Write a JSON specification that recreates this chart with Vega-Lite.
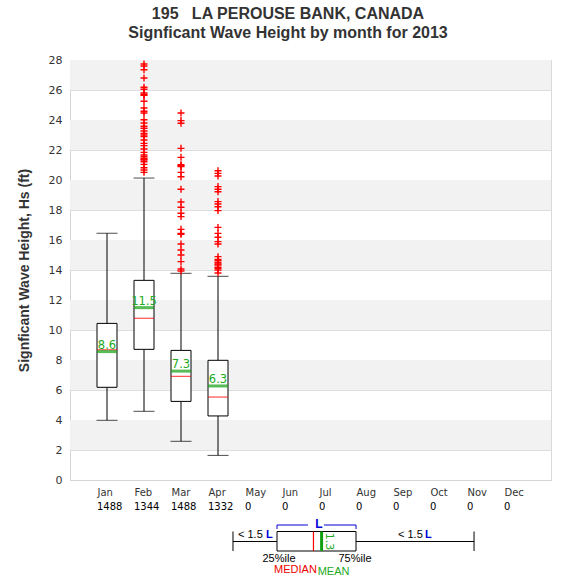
{
  "$schema": "https://vega.github.io/schema/vega-lite/v6.json",
  "background": "white",
  "padding": {"left": 16, "top": 5, "right": 5, "bottom": 5},
  "bounds": "flush",
  "spacing": 40,
  "config": {"axisY": {"labelOverlap": false}, "axis": {"labelOverlap": false}},
  "title": {
    "text": ["195\u00a0\u00a0\u00a0LA PEROUSE BANK, CANADA", "Signficant Wave Height by month for 2013"],
    "font": "Liberation Sans", "fontSize": 16, "fontWeight": "bold", "color": "#333333",
    "anchor": "middle", "frame": "bounds", "lineHeight": 19, "offset": 13, "dx": 4
  },
  "datasets": {
    "months": [
      {"month": "Jan", "n": 1488}, {"month": "Feb", "n": 1344}, {"month": "Mar", "n": 1488},
      {"month": "Apr", "n": 1332}, {"month": "May", "n": 0}, {"month": "Jun", "n": 0},
      {"month": "Jul", "n": 0}, {"month": "Aug", "n": 0}, {"month": "Sep", "n": 0},
      {"month": "Oct", "n": 0}, {"month": "Nov", "n": 0}, {"month": "Dec", "n": 0}
    ],
    "stats": [
      {"month": "Jan", "lo": 3.98, "q1": 6.18, "med": 8.68, "mean": 8.56, "q3": 10.44, "hi": 16.45},
      {"month": "Feb", "lo": 4.58, "q1": 8.71, "med": 10.78, "mean": 11.49, "q3": 13.31, "hi": 20.13},
      {"month": "Mar", "lo": 2.58, "q1": 5.24, "med": 6.91, "mean": 7.26, "q3": 8.64, "hi": 13.78},
      {"month": "Apr", "lo": 1.64, "q1": 4.27, "med": 5.53, "mean": 6.27, "q3": 7.98, "hi": 13.58}
    ],
    "outliers": [
      {"month": "Feb", "v": 27.73}, {"month": "Feb", "v": 27.6}, {"month": "Feb", "v": 27.35}, {"month": "Feb", "v": 26.8},
      {"month": "Feb", "v": 26.18}, {"month": "Feb", "v": 26.05}, {"month": "Feb", "v": 25.8}, {"month": "Feb", "v": 25.7},
      {"month": "Feb", "v": 25.65}, {"month": "Feb", "v": 25.25}, {"month": "Feb", "v": 24.8}, {"month": "Feb", "v": 24.58},
      {"month": "Feb", "v": 24.47}, {"month": "Feb", "v": 24.02}, {"month": "Feb", "v": 23.8}, {"month": "Feb", "v": 23.58},
      {"month": "Feb", "v": 23.45}, {"month": "Feb", "v": 23.27}, {"month": "Feb", "v": 23.11}, {"month": "Feb", "v": 23.0},
      {"month": "Feb", "v": 22.89}, {"month": "Feb", "v": 22.67}, {"month": "Feb", "v": 22.44}, {"month": "Feb", "v": 22.29},
      {"month": "Feb", "v": 22.07}, {"month": "Feb", "v": 21.84}, {"month": "Feb", "v": 21.67}, {"month": "Feb", "v": 21.55},
      {"month": "Feb", "v": 21.44}, {"month": "Feb", "v": 21.38}, {"month": "Feb", "v": 21.33}, {"month": "Feb", "v": 21.22},
      {"month": "Feb", "v": 21.04}, {"month": "Feb", "v": 20.82}, {"month": "Feb", "v": 20.67}, {"month": "Feb", "v": 20.51},
      {"month": "Mar", "v": 24.47}, {"month": "Mar", "v": 23.96}, {"month": "Mar", "v": 23.78}, {"month": "Mar", "v": 22.11},
      {"month": "Mar", "v": 21.51}, {"month": "Mar", "v": 21.02}, {"month": "Mar", "v": 20.96}, {"month": "Mar", "v": 20.9},
      {"month": "Mar", "v": 20.51}, {"month": "Mar", "v": 20.22}, {"month": "Mar", "v": 19.38}, {"month": "Mar", "v": 18.53},
      {"month": "Mar", "v": 18.18}, {"month": "Mar", "v": 17.78}, {"month": "Mar", "v": 17.56}, {"month": "Mar", "v": 16.71},
      {"month": "Mar", "v": 16.44}, {"month": "Mar", "v": 16.38}, {"month": "Mar", "v": 15.73}, {"month": "Mar", "v": 15.33},
      {"month": "Mar", "v": 15.0}, {"month": "Mar", "v": 14.56}, {"month": "Mar", "v": 14.07}, {"month": "Mar", "v": 13.93},
      {"month": "Apr", "v": 20.62}, {"month": "Apr", "v": 20.44}, {"month": "Apr", "v": 20.27}, {"month": "Apr", "v": 19.56},
      {"month": "Apr", "v": 19.38}, {"month": "Apr", "v": 19.22}, {"month": "Apr", "v": 18.56}, {"month": "Apr", "v": 18.4},
      {"month": "Apr", "v": 18.22}, {"month": "Apr", "v": 17.96}, {"month": "Apr", "v": 16.84}, {"month": "Apr", "v": 16.44},
      {"month": "Apr", "v": 16.18}, {"month": "Apr", "v": 15.89}, {"month": "Apr", "v": 15.73}, {"month": "Apr", "v": 14.89},
      {"month": "Apr", "v": 14.71}, {"month": "Apr", "v": 14.62}, {"month": "Apr", "v": 14.49}, {"month": "Apr", "v": 14.4},
      {"month": "Apr", "v": 14.33}, {"month": "Apr", "v": 14.18}, {"month": "Apr", "v": 14.11}, {"month": "Apr", "v": 14.0},
      {"month": "Apr", "v": 13.8}
    ],
    "bands": [
      {"lo": 2, "hi": 4}, {"lo": 6, "hi": 8}, {"lo": 10, "hi": 12}, {"lo": 14, "hi": 16},
      {"lo": 18, "hi": 20}, {"lo": 22, "hi": 24}, {"lo": 26, "hi": 28}
    ],
    "legend": [
      {"lo": 4.405, "q1": 5.595, "med": 6.58, "mean": 6.8, "q3": 7.73, "hi": 10.92, "gapL": 6.43, "gapR": 6.865, "iqr": 1.3}
    ]
  },
  "vconcat": [
    {
      "width": 481,
      "height": 420,
      "view": {"stroke": "#d9d9d9"},
      "layer": [
        {
          "data": {"name": "bands"},
          "mark": {"type": "rect", "fill": "#f2f2f2"},
          "encoding": {
            "x": {"value": 0},
            "x2": {"value": "width"},
            "y": {
              "field": "lo", "type": "quantitative",
              "scale": {"domain": [0, 28], "nice": false, "zero": true},
              "axis": {
                "values": [0, 2, 4, 6, 8, 10, 12, 14, 16, 18, 20, 22, 24, 26, 28],
                "tickCount": 30,
                "labelOverlap": false,
                "title": "Signficant Wave Height, Hs (ft)",
                "titleFont": "Liberation Sans", "titleFontSize": 14, "titleFontWeight": "bold", "titleColor": "#333333",
                "titlePadding": 17,
                "labelFont": "DejaVu Sans", "labelFontSize": 11, "labelColor": "#333333", "labelPadding": 8,
                "ticks": false, "domainColor": "#d4d4d4",
                "grid": true, "gridColor": "#dedede", "gridWidth": 1
              }
            },
            "y2": {"field": "hi"}
          }
        },
        {
          "data": {"name": "months"},
          "mark": {"type": "text", "y": "height", "dy": 27, "dx": -10, "align": "left", "baseline": "middle", "font": "DejaVu Sans", "fontSize": 10, "color": "#000000"},
          "encoding": {
            "x": {
              "field": "month", "type": "ordinal", "sort": null,
              "scale": {"type": "point", "domain": ["Jan", "Feb", "Mar", "Apr", "May", "Jun", "Jul", "Aug", "Sep", "Oct", "Nov", "Dec"], "padding": 1},
              "axis": {
                "title": null, "labelAngle": 0, "labelAlign": "left", "labelOffset": -10,
                "ticks": false, "labelPadding": 7, "labelFont": "DejaVu Sans", "labelFontSize": 10,
                "labelColor": "#333333", "domainColor": "#d4d4d4", "grid": false
              }
            },
            "text": {"field": "n", "type": "quantitative", "format": "d"}
          }
        },
        {
          "data": {"name": "stats"},
          "mark": {"type": "rule", "color": "#000000", "strokeWidth": 1},
          "encoding": {
            "x": {"field": "month", "type": "ordinal"},
            "y": {"field": "lo", "type": "quantitative"},
            "y2": {"field": "q1"}
          }
        },
        {
          "data": {"name": "stats"},
          "mark": {"type": "rule", "color": "#000000", "strokeWidth": 1},
          "encoding": {
            "x": {"field": "month", "type": "ordinal"},
            "y": {"field": "q3", "type": "quantitative"},
            "y2": {"field": "hi"}
          }
        },
        {
          "data": {"name": "stats"},
          "mark": {"type": "tick", "color": "#000000", "size": 21, "thickness": 1},
          "encoding": {
            "x": {"field": "month", "type": "ordinal"},
            "y": {"field": "lo", "type": "quantitative"}
          }
        },
        {
          "data": {"name": "stats"},
          "mark": {"type": "tick", "color": "#000000", "size": 21, "thickness": 1},
          "encoding": {
            "x": {"field": "month", "type": "ordinal"},
            "y": {"field": "hi", "type": "quantitative"}
          }
        },
        {
          "data": {"name": "stats"},
          "mark": {"type": "bar", "size": 20, "fill": "#ffffff", "stroke": "#000000", "strokeWidth": 1},
          "encoding": {
            "x": {"field": "month", "type": "ordinal"},
            "y": {"field": "q1", "type": "quantitative"},
            "y2": {"field": "q3"}
          }
        },
        {
          "data": {"name": "stats"},
          "mark": {"type": "tick", "color": "#ff0000", "size": 20, "thickness": 1.2},
          "encoding": {
            "x": {"field": "month", "type": "ordinal"},
            "y": {"field": "med", "type": "quantitative"}
          }
        },
        {
          "data": {"name": "stats"},
          "mark": {"type": "tick", "color": "#10a010", "size": 20, "thickness": 3},
          "encoding": {
            "x": {"field": "month", "type": "ordinal"},
            "y": {"field": "mean", "type": "quantitative"}
          }
        },
        {
          "data": {"name": "stats"},
          "mark": {"type": "text", "color": "#22aa22", "font": "DejaVu Sans", "fontSize": 11.5, "baseline": "alphabetic", "align": "center", "dy": -3},
          "encoding": {
            "x": {"field": "month", "type": "ordinal"},
            "y": {"field": "mean", "type": "quantitative"},
            "text": {"field": "mean", "type": "quantitative", "format": ".1f"}
          }
        },
        {
          "data": {"name": "outliers"},
          "mark": {"type": "point", "shape": "M-1,0L1,0M0,-1L0,1", "size": 49, "filled": false, "stroke": "#ff0000", "strokeWidth": 1.4, "opacity": 1},
          "encoding": {
            "x": {"field": "month", "type": "ordinal"},
            "y": {"field": "v", "type": "quantitative"}
          }
        }
      ]
    },
    {
      "width": 481,
      "height": 50,
      "view": {"stroke": null},
      "data": {"name": "legend"},
      "encoding": {
        "x": {"type": "quantitative", "scale": {"domain": [0, 13], "nice": false, "zero": false}, "axis": null},
        "y": {"type": "quantitative", "scale": {"domain": [0, 5], "nice": false, "reverse": true}, "axis": null}
      },
      "layer": [
        {
          "mark": {"type": "rule", "color": "#000000"},
          "encoding": {"x": {"field": "lo"}, "x2": {"field": "q1"}, "y": {"datum": 2.15}}
        },
        {
          "mark": {"type": "rule", "color": "#000000"},
          "encoding": {"x": {"field": "q3"}, "x2": {"field": "hi"}, "y": {"datum": 2.15}}
        },
        {
          "mark": {"type": "rule", "color": "#000000"},
          "encoding": {"x": {"field": "lo"}, "y": {"datum": 1.15}, "y2": {"datum": 3.1}}
        },
        {
          "mark": {"type": "rule", "color": "#000000"},
          "encoding": {"x": {"field": "hi"}, "y": {"datum": 1.15}, "y2": {"datum": 3.1}}
        },
        {
          "mark": {"type": "rect", "fill": "#ffffff", "stroke": "#000000", "strokeWidth": 1},
          "encoding": {"x": {"field": "q1"}, "x2": {"field": "q3"}, "y": {"datum": 1.15}, "y2": {"datum": 3.1}}
        },
        {
          "mark": {"type": "rule", "color": "#ff0000", "strokeWidth": 1.2},
          "encoding": {"x": {"field": "med"}, "y": {"datum": 1.15}, "y2": {"datum": 3.1}}
        },
        {
          "mark": {"type": "rule", "color": "#10a010", "strokeWidth": 3},
          "encoding": {"x": {"field": "mean"}, "y": {"datum": 1.15}, "y2": {"datum": 3.1}}
        },
        {
          "mark": {"type": "text", "angle": 90, "color": "#22aa22", "font": "DejaVu Sans", "fontSize": 11, "align": "center", "baseline": "middle", "dx": 0, "dy": -7},
          "encoding": {"x": {"field": "mean"}, "y": {"datum": 2.15}, "text": {"field": "iqr", "type": "quantitative", "format": ".1f"}}
        },
        {
          "mark": {"type": "rule", "color": "#0000cc"},
          "encoding": {"x": {"field": "q1"}, "x2": {"field": "gapL"}, "y": {"datum": 0.5}}
        },
        {
          "mark": {"type": "rule", "color": "#0000cc"},
          "encoding": {"x": {"field": "gapR"}, "x2": {"field": "q3"}, "y": {"datum": 0.5}}
        },
        {
          "mark": {"type": "rule", "color": "#0000cc"},
          "encoding": {"x": {"field": "q1"}, "y": {"datum": 0.5}, "y2": {"datum": 0.9}}
        },
        {
          "mark": {"type": "rule", "color": "#0000cc"},
          "encoding": {"x": {"field": "q3"}, "y": {"datum": 0.5}, "y2": {"datum": 0.9}}
        },
        {
          "mark": {"type": "text", "text": "L", "color": "#0000dd", "font": "Liberation Sans", "fontSize": 12, "fontWeight": "bold", "align": "center", "baseline": "middle", "dx": 11},
          "encoding": {"x": {"field": "gapL"}, "y": {"datum": 0.35}}
        },
        {
          "mark": {"type": "text", "text": "< 1.5", "color": "#000000", "font": "Liberation Sans", "fontSize": 11, "align": "left", "baseline": "middle", "dx": 5},
          "encoding": {"x": {"field": "lo"}, "y": {"datum": 1.45}}
        },
        {
          "mark": {"type": "text", "text": "L", "color": "#0000dd", "font": "Liberation Sans", "fontSize": 11, "fontWeight": "bold", "align": "left", "baseline": "middle", "dx": 33},
          "encoding": {"x": {"field": "lo"}, "y": {"datum": 1.45}}
        },
        {
          "mark": {"type": "text", "text": "< 1.5", "color": "#000000", "font": "Liberation Sans", "fontSize": 11, "align": "left", "baseline": "middle", "dx": 42},
          "encoding": {"x": {"field": "q3"}, "y": {"datum": 1.45}}
        },
        {
          "mark": {"type": "text", "text": "L", "color": "#0000dd", "font": "Liberation Sans", "fontSize": 11, "fontWeight": "bold", "align": "left", "baseline": "middle", "dx": 69},
          "encoding": {"x": {"field": "q3"}, "y": {"datum": 1.45}}
        },
        {
          "mark": {"type": "text", "text": "25%ile", "color": "#000000", "font": "Liberation Sans", "fontSize": 11, "align": "center", "baseline": "middle", "dx": 2},
          "encoding": {"x": {"field": "q1"}, "y": {"datum": 3.85}}
        },
        {
          "mark": {"type": "text", "text": "75%ile", "color": "#000000", "font": "Liberation Sans", "fontSize": 11, "align": "center", "baseline": "middle", "dx": -1},
          "encoding": {"x": {"field": "q3"}, "y": {"datum": 3.85}}
        },
        {
          "mark": {"type": "text", "text": "MEDIAN", "color": "#ee0000", "font": "Liberation Sans", "fontSize": 11, "align": "center", "baseline": "middle", "dx": -18},
          "encoding": {"x": {"field": "med"}, "y": {"datum": 5.0}}
        },
        {
          "mark": {"type": "text", "text": "MEAN", "color": "#22aa22", "font": "Liberation Sans", "fontSize": 11, "align": "center", "baseline": "middle", "dx": 12},
          "encoding": {"x": {"field": "mean"}, "y": {"datum": 5.2}}
        }
      ]
    }
  ]
}
